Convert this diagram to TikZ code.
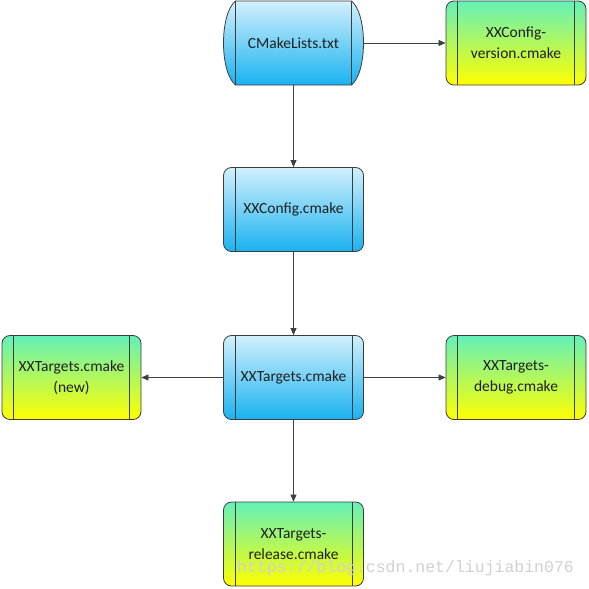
\documentclass[tikz,border=0pt]{standalone}
\usepackage{fontspec}
\setmainfont{Carlito}
\newfontfamily\wmfont{Liberation Mono}
\usetikzlibrary{arrows.meta,calc}
\definecolor{bluetop}{RGB}{210,240,252}
\definecolor{bluebot}{RGB}{25,178,240}
\definecolor{greentop}{RGB}{100,240,185}
\definecolor{yellowbot}{RGB}{255,255,0}
\definecolor{edgec}{RGB}{60,60,60}
\definecolor{arrowc}{RGB}{64,64,64}
\tikzset{
  labelfont/.style={font=\fontsize{15.5}{21}\selectfont, text=black!88},
  procbox/.style={draw=edgec, line width=0.8pt, rounded corners=8pt, minimum width=140pt, minimum height=84pt, align=center, labelfont, inner sep=2pt},
  bluebox/.style={procbox, top color=bluetop, bottom color=bluebot},
  greenbox/.style={procbox, top color=greentop, bottom color=yellowbot},
  innerline/.style={draw=edgec, line width=0.8pt},
  conn/.style={draw=arrowc, line width=0.7pt, -{Triangle[length=7pt,width=6pt]}}
}
\newcommand{\sidelines}[1]{%
  \draw[innerline] ($(#1.north west)+(12pt,0)$) -- ($(#1.south west)+(12pt,0)$);
  \draw[innerline] ($(#1.north east)+(-12pt,0)$) -- ($(#1.south east)+(-12pt,0)$);}
\begin{document}
\begin{tikzpicture}[x=1pt,y=-1pt]
\useasboundingbox[fill=white] (0,0) rectangle (589,589);
% CMakeLists shape
\shade[top color=bluetop, bottom color=bluebot, draw=edgec, line width=0.8pt]
  (235.5,1) -- (351.5,1) .. controls (367.5,14) and (367.5,72) .. (351.5,85) -- (235.5,85) .. controls (219.5,72) and (219.5,14) .. (235.5,1) -- cycle;
\draw[innerline] (235.5,1) -- (235.5,85);
\draw[innerline] (351.5,1) -- (351.5,85);
\node[minimum width=140pt, minimum height=84pt, labelfont] (cm) at (293.5,43) {CMakeLists.txt};
\node[greenbox] (ver) at (516,43) {XXConfig-\\version.cmake};
\node[bluebox] (cfg) at (293.5,209.5) {XXConfig.cmake};
\node[bluebox] (tgt) at (293.5,377.5) {XXTargets.cmake};
\node[greenbox, minimum width=139pt] (new) at (71.5,377.5) {XXTargets.cmake\\(new)};
\node[greenbox] (dbg) at (516,377.5) {XXTargets-\\debug.cmake};
\node[greenbox] (rel) at (293.5,544) {XXTargets-\\release.cmake};
\sidelines{ver}\sidelines{cfg}\sidelines{tgt}\sidelines{new}\sidelines{dbg}\sidelines{rel}
\draw[conn] (cm.east) -- (ver.west);
\draw[conn] (cm.south) -- (cfg.north);
\draw[conn] (cfg.south) -- (tgt.north);
\draw[conn] (tgt.west) -- (new.east);
\draw[conn] (tgt.east) -- (dbg.west);
\draw[conn] (tgt.south) -- (rel.north);
\node[font=\wmfont\fontsize{16.5}{18}\selectfont, text=black!18, anchor=west, inner sep=0pt] (wm) at (237,568) {https://blog.csdn.net/liujiabin076};
\end{tikzpicture}
\end{document}
